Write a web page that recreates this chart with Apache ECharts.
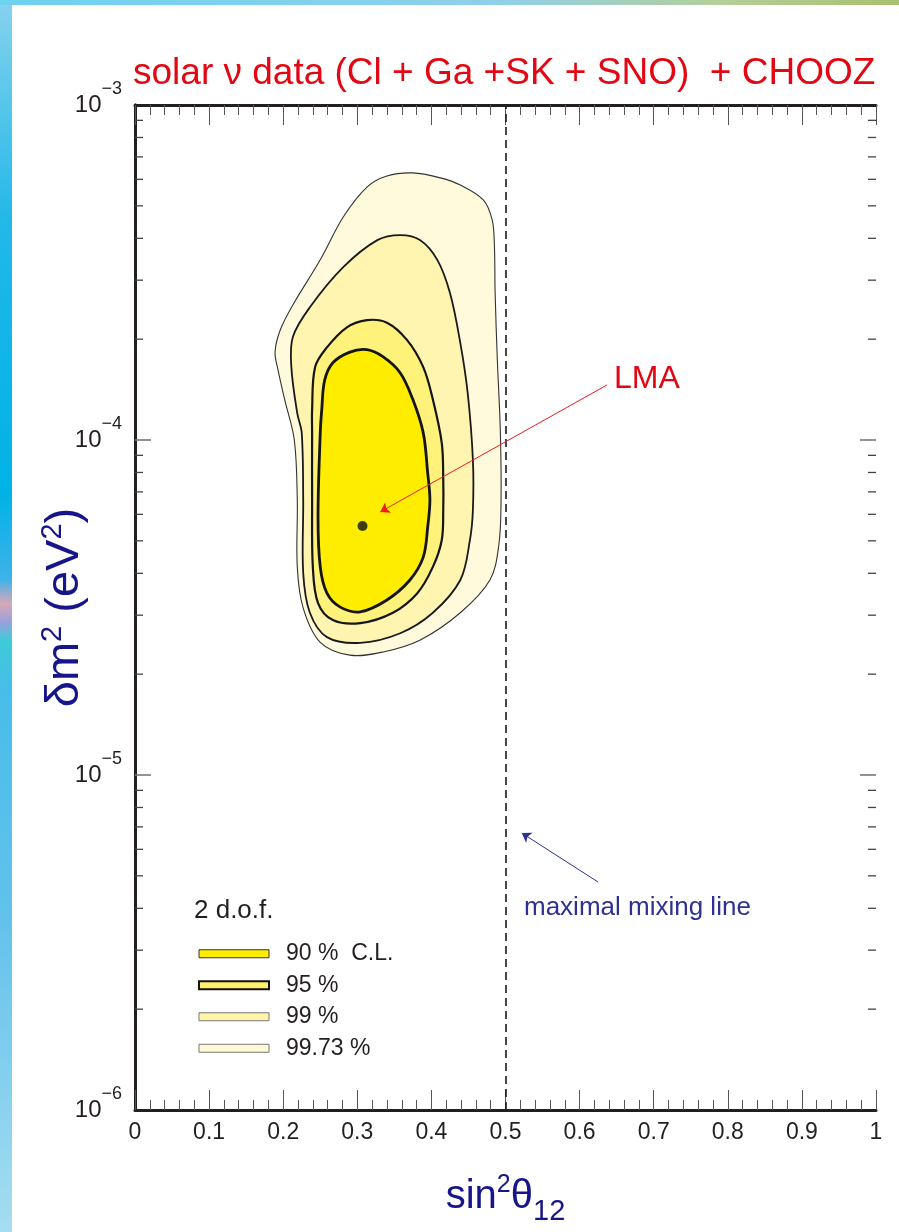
<!DOCTYPE html>
<html>
<head>
<meta charset="utf-8">
<script src="https://cdn.jsdelivr.net/npm/echarts@6/dist/echarts.min.js"></script>
<style>
  html, body { margin: 0; padding: 0; background: #fff; }
  #chart { width: 899px; height: 1232px; }
</style>
</head>
<body>
<div id="chart"></div>
<script>
// Allowed regions in the (sin^2 theta12, delta m^2) plane, solar + CHOOZ fit, 2 d.o.f.
const contour9973 = [[0.313,5.69e-4],[0.340,6.14e-4],[0.375,6.27e-4],[0.412,6.06e-4],[0.439,5.77e-4],[0.470,5.21e-4],[0.482,4.54e-4],[0.485,3.82e-4],[0.486,2.75e-4],[0.489,1.73e-4],[0.493,1.07e-4],[0.494,6.62e-5],[0.491,4.86e-5],[0.479,3.82e-5],[0.439,3.05e-5],[0.385,2.53e-5],[0.335,2.33e-5],[0.290,2.28e-5],[0.250,2.49e-5],[0.227,3.15e-5],[0.219,4.18e-5],[0.219,6.62e-5],[0.215,1.00e-4],[0.202,1.32e-4],[0.193,1.62e-4],[0.189,1.83e-4],[0.196,2.13e-4],[0.213,2.53e-4],[0.250,3.45e-4],[0.281,4.63e-4]];
const contour99 = [[0.327,3.95e-4],[0.358,4.09e-4],[0.385,3.95e-4],[0.408,3.45e-4],[0.425,2.75e-4],[0.439,1.95e-4],[0.449,1.38e-4],[0.456,8.72e-5],[0.456,6.18e-5],[0.452,5.03e-5],[0.439,3.82e-5],[0.402,3.05e-5],[0.358,2.65e-5],[0.304,2.48e-5],[0.259,2.58e-5],[0.236,3.05e-5],[0.227,4.01e-5],[0.227,6.62e-5],[0.225,1.05e-4],[0.219,1.20e-4],[0.211,1.65e-4],[0.213,2.03e-4],[0.236,2.49e-4],[0.281,3.28e-4]];
const contour95 = [[0.286,2.17e-4],[0.313,2.28e-4],[0.340,2.24e-4],[0.367,1.99e-4],[0.389,1.65e-4],[0.402,1.32e-4],[0.414,9.79e-5],[0.416,7.60e-5],[0.416,6.18e-5],[0.414,5.03e-5],[0.402,4.18e-5],[0.381,3.49e-5],[0.348,3.05e-5],[0.304,2.84e-5],[0.267,2.90e-5],[0.247,3.26e-5],[0.240,4.18e-5],[0.239,6.62e-5],[0.239,1.05e-4],[0.239,1.23e-4],[0.243,1.65e-4],[0.259,1.89e-4]];
const contour90 = [[0.290,1.83e-4],[0.313,1.86e-4],[0.335,1.77e-4],[0.358,1.585e-4],[0.375,1.32e-4],[0.389,1.05e-4],[0.395,7.97e-5],[0.398,6.62e-5],[0.395,5.50e-5],[0.389,4.47e-5],[0.371,3.82e-5],[0.340,3.33e-5],[0.304,3.07e-5],[0.277,3.17e-5],[0.259,3.49e-5],[0.250,4.18e-5],[0.247,5.89e-5],[0.250,1.05e-4],[0.252,1.23e-4],[0.256,1.51e-4],[0.267,1.70e-4]];
const bestFit = [[0.307, 5.54e-5]];

// Annotation arrows [from, to]
const lmaArrow = [[0.637, 1.46e-4], [0.331, 6.10e-5]];
const mixingArrow = [[0.625, 4.79e-6], [0.522, 6.71e-6]];
const maximalMixing = 0.5;

// Log-axis ticks: decades (long) and 2..9 within each decade (short)
const yMajorTicks = [1e-5, 1e-4];
const yMinorTicks = [
  2e-6,3e-6,4e-6,5e-6,6e-6,7e-6,8e-6,9e-6,
  2e-5,3e-5,4e-5,5e-5,6e-5,7e-5,8e-5,9e-5,
  2e-4,3e-4,4e-4,5e-4,6e-4,7e-4,8e-4,9e-4
];

const legendNames = ['90 %  C.L.', '95 %', '99 %', '99.73 %'];

const FONT = '"Liberation Sans", Arial, Helvetica, sans-serif';
const INK = '#231f20';
const NAVY = '#16168a';

function contourSeries(name, pts, fill, stroke, width) {
  return {
    type: 'custom',
    name: name,
    data: pts,
    silent: true,
    itemStyle: { color: fill },
    renderItem: function (params, api) {
      if (params.dataIndex !== 0) return null;
      const points = pts.map(function (p) { return api.coord(p); });
      return {
        type: 'polygon',
        shape: { points: points, smooth: 0.35 },
        style: { fill: fill, stroke: stroke, lineWidth: width }
      };
    }
  };
}

// Inward tick marks on both vertical frame sides
function yTickSeries(values, len, color, width) {
  return {
    type: 'custom',
    silent: true,
    z: 5,
    data: values.map(function (v) { return [0, v]; }),
    renderItem: function (params, api) {
      const v = api.value(1);
      const l = api.coord([0, v]);
      const r = api.coord([1, v]);
      return {
        type: 'group',
        children: [
          { type: 'line', shape: { x1: l[0], y1: l[1], x2: l[0] + len, y2: l[1] }, style: { stroke: color, lineWidth: width } },
          { type: 'line', shape: { x1: r[0] - len, y1: r[1], x2: r[0], y2: r[1] }, style: { stroke: color, lineWidth: width } }
        ]
      };
    }
  };
}

const chart = echarts.init(document.getElementById('chart'), null, { renderer: 'canvas' });

const xAxisCommon = {
  type: 'value', min: 0, max: 1, interval: 0.1,
  axisLine: { lineStyle: { color: INK, width: 3 } },
  splitLine: { show: false },
  axisTick: { inside: true, length: 20, lineStyle: { color: '#555', width: 1 } },
  minorTick: { show: true, splitNumber: 5, length: 10, lineStyle: { color: '#555', width: 1 } }
};

const option = {
  animation: false,
  backgroundColor: '#ffffff',
  textStyle: { fontFamily: FONT },
  title: {
    text: 'solar \u03bd data (Cl + Ga +SK + SNO)  + CHOOZ',
    left: 128, top: 50,
    textStyle: { fontSize: 37, fontWeight: 'normal', color: '#e30613', fontFamily: FONT }
  },
  grid: { left: 135, right: 23, top: 105, bottom: 122 },
  legend: {
    orient: 'vertical', left: 193, top: 937,
    itemWidth: 70, itemHeight: 8, itemGap: 8,
    selectedMode: false,
    textStyle: { fontSize: 23, color: INK, fontFamily: FONT, lineHeight: 23.5, padding: [0, 0, 0, 12] },
    data: [
      { name: legendNames[0], icon: 'rect', itemStyle: { color: '#ffed00', borderColor: '#333', borderWidth: 1 } },
      { name: legendNames[1], icon: 'rect', itemStyle: { color: '#fff16c', borderColor: '#111', borderWidth: 2 } },
      { name: legendNames[2], icon: 'rect', itemStyle: { color: '#fff4a8', borderColor: '#777', borderWidth: 1 } },
      { name: legendNames[3], icon: 'rect', itemStyle: { color: '#fff9d6', borderColor: '#777', borderWidth: 1 } }
    ]
  },
  xAxis: [
    Object.assign({}, xAxisCommon, {
      position: 'bottom',
      axisLabel: { fontSize: 23, color: INK, margin: 11, fontFamily: FONT },
      name: '{a|sin}{s|2}{a|\u03b8}{b|12}',
      nameLocation: 'middle', nameGap: 57,
      nameTextStyle: {
        rich: {
          a: { fontSize: 40, color: NAVY, fontFamily: FONT },
          s: { fontSize: 25, color: NAVY, fontFamily: FONT, padding: [0, 0, 22, 0] },
          b: { fontSize: 29, color: NAVY, fontFamily: FONT, padding: [30, 0, 0, 0] }
        }
      }
    }),
    Object.assign({}, xAxisCommon, {
      position: 'top',
      axisLabel: { show: false }
    })
  ],
  yAxis: [
    {
      type: 'log', logBase: 10, min: 1e-6, max: 1e-3, position: 'left',
      axisLine: { lineStyle: { color: INK, width: 3 } },
      axisTick: { show: false },
      splitLine: { show: false },
      axisLabel: {
        margin: 13,
        formatter: function (v) {
          const e = Math.round(Math.log10(v));
          return '{b|10}{e|\u2212' + Math.abs(e) + '}';
        },
        rich: {
          b: { fontSize: 24, color: INK, fontFamily: FONT },
          e: { fontSize: 18, color: INK, fontFamily: FONT, padding: [0, 0, 32, 0] }
        }
      },
      name: '{a|\u03b4m}{s|2}{a| (eV}{s|2}{a|)}',
      nameLocation: 'middle', nameRotate: 90, nameGap: 42,
      nameMoveOverlap: false,
      nameTextStyle: {
        rich: {
          a: { fontSize: 47, color: NAVY, fontFamily: FONT },
          s: { fontSize: 29, color: NAVY, fontFamily: FONT, padding: [0, 0, 26, 0] }
        }
      }
    },
    {
      type: 'log', logBase: 10, min: 1e-6, max: 1e-3, position: 'right',
      axisLine: { lineStyle: { color: INK, width: 3 } },
      axisTick: { show: false },
      splitLine: { show: false },
      axisLabel: { show: false }
    }
  ],
  series: [
    contourSeries(legendNames[3], contour9973, '#fffadb', '#333', 1.1),
    contourSeries(legendNames[2], contour99, '#fff5b0', '#1a1a1a', 1.8),
    contourSeries(legendNames[1], contour95, '#fff27a', '#151515', 2.2),
    contourSeries(legendNames[0], contour90, '#ffed00', '#151515', 2.8),
    yTickSeries(yMinorTicks, 8, '#444', 1.3),
    Object.assign(yTickSeries(yMajorTicks, 16, '#777', 1.6), {
      markLine: {
        silent: true,
        symbol: 'none',
        label: { show: false },
        lineStyle: { color: '#1a1a1a', width: 1.6, type: [8, 5] },
        data: [{ xAxis: maximalMixing }]
      }
    }),
    {
      type: 'scatter',
      silent: true,
      data: bestFit,
      symbol: 'circle',
      symbolSize: 10,
      itemStyle: { color: '#111' },
      markLine: {
        silent: true,
        symbol: ['none', 'arrow'],
        symbolSize: 9,
        label: { show: false },
        data: [
          [{ coord: lmaArrow[0], lineStyle: { color: '#ee1c25', width: 1, type: 'solid' } }, { coord: lmaArrow[1] }],
          [{ coord: mixingArrow[0], lineStyle: { color: '#2e3192', width: 1, type: 'solid' } }, { coord: mixingArrow[1] }]
        ]
      }
    }
  ],
  graphic: [
    {
      type: 'rect', z: -10, silent: true,
      shape: { x: 0, y: 0, width: 12, height: 1232 },
      style: {
        fill: new echarts.graphic.LinearGradient(0, 0, 0, 1, [
          { offset: 0, color: '#86d2ee' },
          { offset: 0.18, color: '#22b8e8' },
          { offset: 0.4, color: '#00b2e6' },
          { offset: 0.47, color: '#3fb2ea' },
          { offset: 0.49, color: '#d7a8b8' },
          { offset: 0.505, color: '#9aa0dd' },
          { offset: 0.52, color: '#3ecbd8' },
          { offset: 0.56, color: '#47bde9' },
          { offset: 0.75, color: '#63c2ec' },
          { offset: 1, color: '#a6ddf1' }
        ])
      }
    },
    {
      type: 'rect', z: -9, silent: true,
      shape: { x: 0, y: 0, width: 899, height: 5 },
      style: {
        fill: new echarts.graphic.LinearGradient(0, 0, 1, 0, [
          { offset: 0, color: '#6dd2ee' },
          { offset: 0.55, color: '#8fd0ea' },
          { offset: 0.8, color: '#b4cf9a' },
          { offset: 1, color: '#a8c070' }
        ])
      }
    },
    {
      type: 'text', left: 614, top: 363, silent: true,
      style: { text: 'LMA', fontSize: 32, fill: '#e30613', fontFamily: FONT }
    },
    {
      type: 'text', left: 524, top: 895, silent: true,
      style: { text: 'maximal mixing line', fontSize: 26, fill: '#2e3192', fontFamily: FONT }
    },
    {
      type: 'text', left: 194, top: 898, silent: true,
      style: { text: '2 d.o.f.', fontSize: 26, fill: INK, fontFamily: FONT }
    }
  ]
};

chart.setOption(option);
</script>
</body>
</html>
